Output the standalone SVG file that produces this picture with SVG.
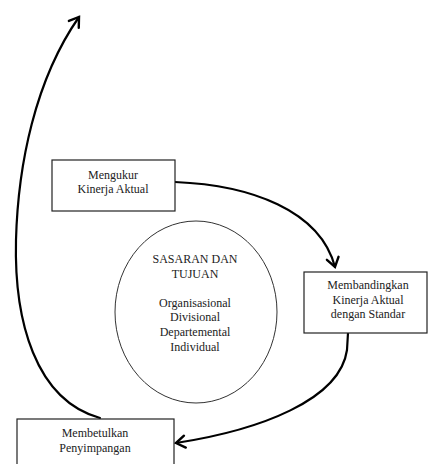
<svg xmlns="http://www.w3.org/2000/svg" width="428" height="464" viewBox="0 0 428 464">
<style>
.box{fill:#fff;stroke:#222;stroke-width:1.2}
.lbl{font-family:"Liberation Serif","DejaVu Serif",serif;font-size:12px;fill:#222;text-anchor:middle}
.con{fill:none;stroke:#000;stroke-width:2.2;stroke-linecap:round}
</style>
<defs>
<marker id="arr" markerUnits="userSpaceOnUse" markerWidth="16" markerHeight="16" viewBox="-12 -8 14 16" refX="0" refY="0" orient="auto">
<path d="M-9,-6 L0,0 L-9,6" fill="none" stroke="#000" stroke-width="2.4" stroke-linecap="round" stroke-linejoin="miter"/>
</marker>
</defs>
<rect width="428" height="464" fill="#fff"/>
<g id="connectors">
<path class="con" d="M175,182 C250,185 320,210 335,267" marker-end="url(#arr)"/>
<path class="con" d="M348,333 L347,350 C340,400 260,430 176,443" marker-end="url(#arr)"/>
<path class="con" d="M100,418 C35,400 14,320 16,240 C18,165 35,80 79,17" marker-end="url(#arr)"/>
</g>
<g id="sasaran">
<ellipse cx="196" cy="312" rx="81" ry="91" fill="#fff" stroke="#333" stroke-width="1"/>
<text class="lbl" x="195" y="263">SASARAN DAN</text>
<text class="lbl" x="195" y="277.6">TUJUAN</text>
<text class="lbl" x="195" y="306.8">Organisasional</text>
<text class="lbl" x="195" y="321.4">Divisional</text>
<text class="lbl" x="195" y="336">Departemental</text>
<text class="lbl" x="195" y="350.6">Individual</text>
</g>
<g id="mengukur">
<rect class="box" x="52" y="160" width="123" height="51"/>
<text class="lbl" x="113" y="179">Mengukur</text>
<text class="lbl" x="113" y="193">Kinerja Aktual</text>
</g>
<g id="membandingkan">
<rect class="box" x="304" y="272" width="123" height="61"/>
<text class="lbl" x="368" y="289">Membandingkan</text>
<text class="lbl" x="368" y="304">Kinerja Aktual</text>
<text class="lbl" x="368" y="318">dengan Standar</text>
</g>
<g id="membetulkan">
<rect class="box" x="17" y="419" width="157" height="50"/>
<text class="lbl" x="95" y="437">Membetulkan</text>
<text class="lbl" x="95" y="452">Penyimpangan</text>
</g>
</svg>
